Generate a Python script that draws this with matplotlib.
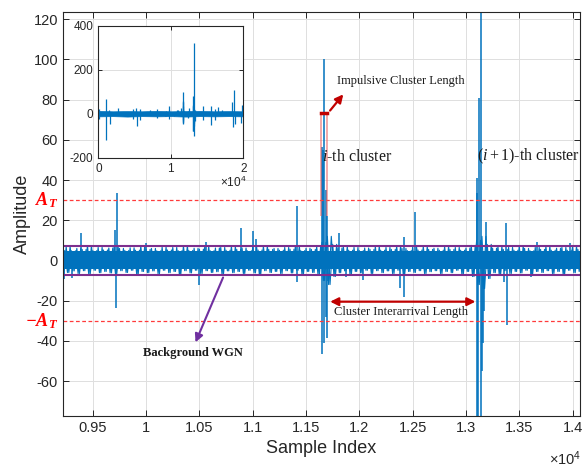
import numpy as np
import matplotlib.pyplot as plt
from matplotlib import transforms

plt.rcParams['font.family'] = 'Liberation Sans'
plt.rcParams['axes.unicode_minus'] = False
plt.rcParams['mathtext.fontset'] = 'custom'
plt.rcParams['mathtext.rm'] = 'Liberation Serif'
plt.rcParams['mathtext.it'] = 'Liberation Serif:italic'
plt.rcParams['mathtext.bf'] = 'Liberation Serif:italic:bold'
plt.rcParams['mathtext.sf'] = 'Liberation Sans'

# background noise peaks in the zoomed window (every 50 samples from 9200)
wgn_x = np.arange(9200, 14101, 50)
wgn_hi = [5, 7, 4.8, 6, 5.5, 7.4, 4.9, 6.5, 5.2, 6.2,
          7, 6, 5, 6.3, 5.1, 7.2, 5.5, 6, 4.8, 6.6,
          5.2, 6.5, 4.9, 7.3, 5, 6.1, 5.6, 7, 4.9, 6.2,
          6.5, 5.1, 7.1, 5.5, 6.2, 4.8, 6.6, 5.2, 7.2, 5.5,
          6, 5.1, 6.5, 5.6, 7.3, 4.9, 6.1, 5.5, 7, 9,
          12, 8, 6.2, 7, 5.1, 6.5, 4.9, 6.2, 5.5, 7.1,
          5.1, 6.5, 5.5, 7.2, 6, 4.9, 6.6, 5.2, 7, 5.5,
          6.1, 5.1, 7, 5.5, 6.5, 5.1, 6.2, 7.5, 10, 12,
          8, 6.1, 7, 5.5, 6.5, 5.1, 7.2, 6, 4.9, 6.5,
          5.5, 7.1, 5.1, 6.1, 6.5, 5.1, 7.2, 5.5, 6.2]
wgn_lo = [-9, -6, -5.2, -6.5, -5.1, -7, -4.9, -6.1, -5.5, -6.2,
          -6.5, -5.1, -6, -4.9, -7.2, -5.5, -6.1, -5.2, -6.6, -4.9,
          -6.1, -5.5, -7.1, -5.1, -6.2, -4.9, -6.5, -5.1, -6, -5.6,
          -7, -5.2, -6.1, -5.5, -6.5, -4.9, -6.2, -7, -5.1, -6,
          -5.5, -6.5, -5.1, -6.2, -4.9, -7.1, -5.5, -6, -7, -10,
          -12, -8, -6.1, -5.2, -7, -5.5, -6.2, -4.9, -6.5, -5.1,
          -6.1, -5.2, -6.5, -4.9, -7.1, -5.5, -6, -5.1, -6.5, -5.6,
          -5.1, -6.5, -5.5, -6.1, -4.9, -7, -5.5, -8, -12, -14,
          -9, -6.1, -7, -5.1, -6.5, -5.5, -6.2, -4.9, -7.1, -5.5,
          -6, -5.1, -6.5, -5.5, -7, -4.9, -6.1, -5.5, -6.2]

# coarse envelope for the full record (inset)
full_x = [0, 2000, 4000, 6000, 8000, 10000, 12000, 14000, 16000, 18000, 20000]
full_hi = [13, 11, 12, 11, 13, 11, 12, 13, 11, 12, 11]
full_lo = [-12, -11, -13, -11, -12, -11, -13, -11, -12, -11, -12]

# impulsive samples (index, amplitude)
spike_idx = [60, 90, 1050, 1080, 1520, 1540, 2760, 4735, 4760, 5200, 5290, 5750, 5770,
             7130, 8050, 8070,
             9230, 9300, 9393, 9709, 9718, 9725, 10000, 10497, 10560, 10888, 11004,
             11035, 11416, 11416,
             11650, 11650, 11662, 11672, 11672, 11687, 11687, 11694, 11700, 11710,
             11810, 11879, 12036, 12380, 12417, 12420, 12520,
             13100, 13106, 13106, 13116, 13125, 13141, 13141, 13147, 13162, 13170,
             13186, 13357, 13375, 13383, 13610, 13664, 13974,
             14480, 14500, 15540, 15560, 16090, 16100, 16550, 17010,
             18480, 18620, 18710, 18900, 19700, 19770]
spike_val = [23, -23, 68, -121, 18, -45, 26, 23, -23, 25, -56, 23, -30,
             15, 20, -20,
             -9, -8.9, 13.8, 15, -23.8, 33.4, 8.7, -12.2, 9, 16.3, 14.7,
             10.9, 27, -10.5,
             56.6, -46.5, 55, 100, -41, 35, -28, -38.7, 22, -10,
             13.5, -8, -9.7, -13.8, 11.5, -18.3, 24,
             33.4, 40.9, -80, -80, 80.7, 323, -101, -55, -41, -25,
             19.3, -10.5, 18.6, -32, -8, 9.4, 8.5,
             33, -30, 33, -53, -30, 23, 30, 15,
             53, -60, 106, -45, -42, 38]

A_T = 30
wgn_level = 7.3
cluster_len = [11645, 11697]

blue = '#0072BD'
dark = '#262626'

fig = plt.figure(figsize=(5.82, 4.68), dpi=100)
ax = fig.add_axes([0.1082, 0.111, 0.8884, 0.8634])

# noise drawn as two interleaved zigzag traces between the read peaks
ax.fill_between(wgn_x, -4.3, 4.6, color=blue, lw=0)
ax.plot(np.ravel(np.column_stack([wgn_x, wgn_x + 25])),
        np.ravel(np.column_stack([wgn_hi, wgn_lo])), color=blue, lw=0.8)
ax.plot(np.ravel(np.column_stack([wgn_x + 12, wgn_x + 37])),
        np.ravel(np.column_stack([wgn_lo, wgn_hi])), color=blue, lw=0.8)
ax.vlines(spike_idx, 0, spike_val, color=blue, lw=1.1)

ax.axhline(A_T, color='#FF3B3B', ls=(0, (3, 2)), lw=0.9)
ax.axhline(-A_T, color='#FF3B3B', ls=(0, (3, 2)), lw=0.9)
ax.axhline(wgn_level, color='#7E2F8E', lw=1.5)
ax.axhline(-wgn_level, color='#7E2F8E', lw=1.5)

ax.set_xlim(9220, 14070)
ax.set_ylim(-77.4, 123.6)
ax.set_xticks(np.arange(9500, 14001, 500))
ax.set_xticklabels([f'{v / 1e4:g}' for v in np.arange(9500, 14001, 500)])
ax.set_yticks(np.arange(-60, 121, 20))
ax.grid(True, color='#DFDFDF', lw=0.7)
ax.set_axisbelow(True)
ax.tick_params(direction='in', length=4, top=True, right=True, labelsize=10.5,
               colors=dark, width=0.7)
for s in ax.spines.values():
    s.set_color(dark)
    s.set_linewidth(0.8)
ax.set_xlabel('Sample Index', fontsize=13, color=dark)
ax.set_ylabel('Amplitude', fontsize=13, color=dark, labelpad=2)
ax.text(1.003, -0.122, r'$\mathsf{\times 10^4}$', transform=ax.transAxes,
        ha='right', va='baseline', fontsize=10.5, color=dark)

# threshold labels
trans = transforms.blended_transform_factory(ax.transAxes, ax.transData)
ax.text(-0.01, A_T, r'$\mathbf{A_T}$', transform=trans, ha='right', va='center',
        color='red', fontsize=13)
ax.text(-0.01, -A_T, r'$\mathbf{-A_T}$', transform=trans, ha='right', va='center',
        color='red', fontsize=13)

# impulsive cluster length marker
ax.vlines(cluster_len, 22, 73.5, color='#E8595A', lw=1.2, alpha=0.6)
ax.plot(cluster_len, [73.5, 73.5], color='#C00000', lw=2.5)
ax.annotate('', xy=(11866, 83.7), xytext=(11709, 73.5),
            arrowprops=dict(arrowstyle='-|>', color='#C00000', lw=1.6, mutation_scale=12))
ax.text(11794, 89.4, 'Impulsive Cluster Length', family='Liberation Serif',
        fontsize=9, va='center', color='#1a1a1a')

ax.text(11647, 51.6, r'$i$-th cluster', family='Liberation Serif', fontsize=11.5,
        va='center', color='#1a1a1a')
ax.text(13100, 51.6, r'$(i+1)$-th cluster', family='Liberation Serif',
        fontsize=11.5, va='center', color='#1a1a1a')

ax.annotate('', xy=(11700, -20.5), xytext=(13115, -20.5),
            arrowprops=dict(arrowstyle='<|-|>', color='#C00000', lw=1.6, mutation_scale=12))
ax.text(11765, -25.5, 'Cluster Interarrival Length', family='Liberation Serif',
        fontsize=9, va='center', color='#1a1a1a')

ax.annotate('', xy=(10453, -42), xytext=(10732, -7.2),
            arrowprops=dict(arrowstyle='-|>', color='#7030A0', lw=1.5, mutation_scale=12))
ax.text(9975, -45.9, 'Background WGN', family='Liberation Serif', fontweight='bold',
        fontsize=9, va='center', color='#1a1a1a')

# inset with the whole record
ins = fig.add_axes([0.169, 0.663, 0.249, 0.282])
ins.fill_between(full_x, full_lo, full_hi, color=blue, lw=0.5)
ins.vlines(spike_idx, 0, spike_val, color=blue, lw=0.9)
ins.set_xlim(0, 20000)
ins.set_ylim(-200, 400)
ins.set_xticks([0, 10000, 20000])
ins.set_xticklabels(['0', '1', '2'])
ins.set_yticks([-200, 0, 200, 400])
ins.grid(True, color='#DFDFDF', lw=0.7)
ins.set_axisbelow(True)
ins.tick_params(direction='in', length=3, top=True, right=True, labelsize=8.5,
                colors=dark, width=0.7)
for s in ins.spines.values():
    s.set_color(dark)
    s.set_linewidth(0.8)
ins.text(1.02, -0.13, r'$\mathsf{\times 10^4}$', transform=ins.transAxes,
         ha='right', va='top', fontsize=8.5, color=dark)

fig.savefig('out.png', dpi=100)
